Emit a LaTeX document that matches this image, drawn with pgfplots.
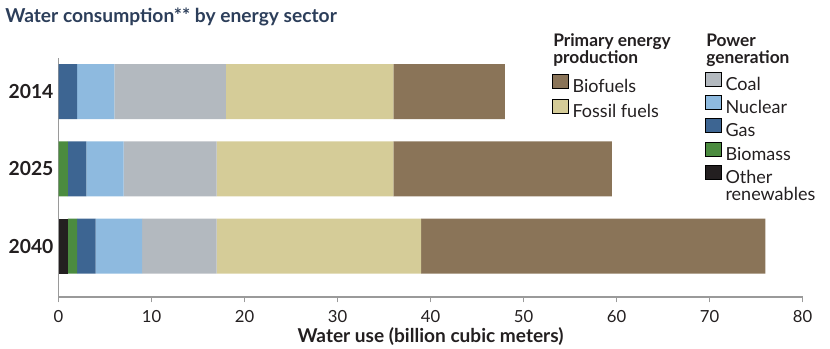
\documentclass[border=0pt]{standalone}
\usepackage{fontspec}
\setmainfont{Lato}
\usepackage{pgfplots}
\pgfplotsset{compat=1.18}
\definecolor{cBio}{HTML}{8A7458}
\definecolor{cFos}{HTML}{D5CC98}
\definecolor{cCoal}{HTML}{B3B9BF}
\definecolor{cNuc}{HTML}{8EBADF}
\definecolor{cGas}{HTML}{3D6592}
\definecolor{cBiom}{HTML}{4B8B3F}
\definecolor{cOth}{HTML}{231F20}
\definecolor{cTitle}{HTML}{2C3E5A}
\definecolor{cAxis}{HTML}{9A9A9A}
\definecolor{cTxt}{HTML}{231F20}
\pgfplotsset{
  legsq/.style={
    legend image code/.code={\fill[##1] (0pt,-1pt) rectangle (12pt,9.5pt);},
    legend cell align=left,
    legend style={at={(0,1)}, anchor=north west, draw=none, fill=none,
      inner sep=0pt, outer sep=0pt, row sep=#1,
      font=\fontsize{13.5}{15}\selectfont, text=cTxt,
      nodes={inner sep=0pt, execute at begin node={\rule[-3.5pt]{0pt}{13pt}}},
      /tikz/every odd column/.style={column sep=3pt}},
  },
  legaxis/.style={hide axis, scale only axis, width=1pt, height=1pt,
    xmin=0, xmax=1, ymin=0, ymax=1, anchor=north west},
}
\begin{document}
\begin{tikzpicture}
\path[use as bounding box] (0,0) rectangle (622.5pt,-261.75pt);
\node[anchor=base west, font=\bfseries\fontsize{14.4}{17}\selectfont, text=cTitle, inner sep=0pt] at (3.75pt,-17.25pt) {Water consumption** by energy sector};
\begin{axis}[
  at={(43.875pt,-43.5pt)}, anchor=north west,
  scale only axis, width=558pt, height=179.25pt,
  xbar stacked, bar width=0.712,
  xmin=0, xmax=80, ymin=-0.66, ymax=2.434,
  ytick={0,1,2}, yticklabels={2040,2025,2014},
  xtick={0,10,...,80},
  axis x line*=bottom, axis y line*=left,
  axis line style={draw=cAxis, line width=0.8pt},
  tick align=outside,
  x tick style={draw=cAxis, line width=0.8pt}, major tick length=4pt,
  y tick style={draw=none},
  yticklabel style={font=\bfseries\fontsize{14.5}{17}\selectfont, text=cTxt, xshift=3.75pt},
  xticklabel style={font=\fontsize{12.5}{15}\selectfont, text=cTxt, yshift=-2.5pt},
  /pgf/number format/assume math mode=true,
  xlabel={Water use (billion cubic meters)},
  xlabel style={font=\bfseries\fontsize{14.3}{17}\selectfont, text=cTxt,
    at={(axis description cs:0.5,0)}, anchor=base, yshift=-33.75pt},
  every axis plot/.append style={draw=none},
]
\addplot[fill=cOth] coordinates {(1,0) (0,1) (0,2)};
\addplot[fill=cBiom] coordinates {(1,0) (1,1) (0,2)};
\addplot[fill=cGas] coordinates {(2,0) (2,1) (2,2)};
\addplot[fill=cNuc] coordinates {(5,0) (4,1) (4,2)};
\addplot[fill=cCoal] coordinates {(8,0) (10,1) (12,2)};
\addplot[fill=cFos] coordinates {(22,0) (19,1) (18,2)};
\addplot[fill=cBio] coordinates {(37,0) (23.5,1) (12,2)};
\end{axis}
\tikzset{lt/.style={anchor=base west, font=\bfseries\fontsize{13}{15}\selectfont, inner sep=0pt, text=cTxt}}
\node[lt] at (414.75pt,-35.25pt) {Primary energy};
\node[lt] at (414.75pt,-48pt) {production};
\node[lt] at (529.5pt,-35.25pt) {Power};
\node[lt] at (529.5pt,-48pt) {generation};
\begin{axis}[legaxis, legsq=3.5pt, at={(414pt,-55.65pt)}]
\addlegendimage{fill=cBio}
\addlegendentry{Biofuels}
\addlegendimage{fill=cFos}
\addlegendentry{Fossil fuels}
\end{axis}
\begin{axis}[legaxis, legsq=2.1pt, at={(528.75pt,-53.8pt)}]
\addlegendimage{fill=cCoal}
\addlegendentry{Coal}
\addlegendimage{fill=cNuc}
\addlegendentry{Nuclear}
\addlegendimage{fill=cGas}
\addlegendentry{Gas}
\addlegendimage{fill=cBiom}
\addlegendentry{Biomass}
\addlegendimage{fill=cOth}
\addlegendentry{\begin{tabular}[t]{@{}l@{}}Other\\[-2.5pt]renewables\end{tabular}}
\end{axis}
\end{tikzpicture}
\end{document}
